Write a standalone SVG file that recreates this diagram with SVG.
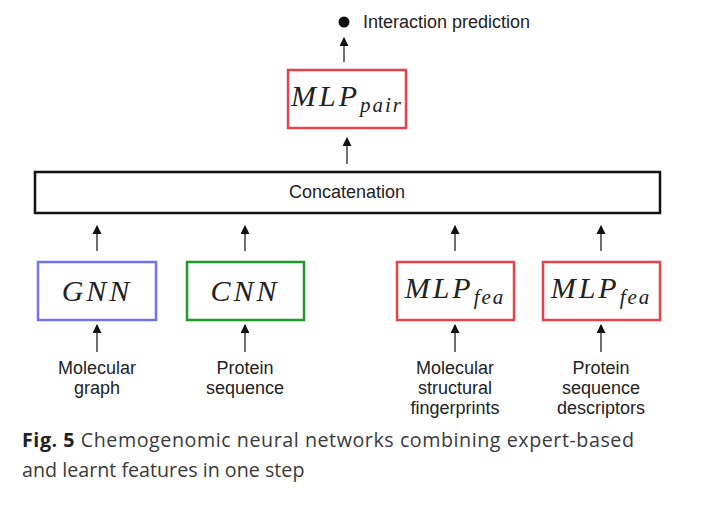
<svg xmlns="http://www.w3.org/2000/svg" width="718" height="505" viewBox="0 0 718 505">
<style>
.box{fill:#fff;stroke-width:2.5}
.red{stroke:#e8434a}
.blue{stroke:#7373f2}
.green{stroke:#1f9a2a}
.blk{stroke:#111;stroke-width:2.5;fill:#fff}
.lbl{font-family:"Liberation Sans",Arial,sans-serif;font-size:18px;fill:#222;text-anchor:middle}
.math{font-family:"Liberation Serif","Times New Roman",serif;font-style:italic;font-size:30px;fill:#222;letter-spacing:3px}
.sub{font-size:21px;letter-spacing:2px}
.cap{font-family:"Open Sans","Noto Sans",sans-serif;font-size:19.7px;fill:#3a3a3a}
.conn line{stroke:#222;stroke-width:1.3}
</style>
<defs>
<marker id="ah" viewBox="0 0 10 10" refX="9" refY="5" markerWidth="10" markerHeight="9" markerUnits="userSpaceOnUse" orient="auto">
<path d="M0,0 L10,5 L0,10 z" fill="#111"/>
</marker>
</defs>
<g id="connectors" class="conn">
<line x1="344" y1="62" x2="344" y2="38" marker-end="url(#ah)"/>
<line x1="347" y1="164" x2="347" y2="138" marker-end="url(#ah)"/>
<line x1="97" y1="251" x2="97" y2="226" marker-end="url(#ah)"/>
<line x1="245" y1="251" x2="245" y2="226" marker-end="url(#ah)"/>
<line x1="455" y1="251" x2="455" y2="226" marker-end="url(#ah)"/>
<line x1="601" y1="251" x2="601" y2="226" marker-end="url(#ah)"/>
<line x1="97" y1="352" x2="97" y2="325" marker-end="url(#ah)"/>
<line x1="245" y1="352" x2="245" y2="325" marker-end="url(#ah)"/>
<line x1="455" y1="352" x2="455" y2="325" marker-end="url(#ah)"/>
<line x1="601" y1="352" x2="601" y2="325" marker-end="url(#ah)"/>
</g>
<g id="output">
<circle cx="344" cy="22" r="5.5" fill="#111"/>
<text x="363" y="28" class="lbl" style="text-anchor:start">Interaction prediction</text>
</g>
<g id="mlp-pair">
<rect x="288" y="70" width="118" height="58" class="box red"/>
<text x="347" y="106" class="math" text-anchor="middle">MLP<tspan class="sub" dy="6">pair</tspan></text>
</g>
<g id="concat">
<rect x="35" y="172" width="625" height="41" class="blk"/>
<text x="347" y="198" class="lbl">Concatenation</text>
</g>
<g id="gnn">
<rect x="38" y="262" width="118" height="58" class="box blue"/>
<text x="97" y="301" class="math" text-anchor="middle">GNN</text>
</g>
<g id="cnn">
<rect x="187" y="262" width="117" height="58" class="box green"/>
<text x="245" y="301" class="math" text-anchor="middle">CNN</text>
</g>
<g id="mlp-fea-1">
<rect x="397" y="262" width="117" height="58" class="box red"/>
<text x="455" y="298" class="math" text-anchor="middle">MLP<tspan class="sub" dy="6">fea</tspan></text>
</g>
<g id="mlp-fea-2">
<rect x="543" y="262" width="117" height="58" class="box red"/>
<text x="601" y="298" class="math" text-anchor="middle">MLP<tspan class="sub" dy="6">fea</tspan></text>
</g>
<g id="inputs">
<text class="lbl"><tspan x="97" y="374">Molecular</tspan><tspan x="97" y="394">graph</tspan></text>
<text class="lbl"><tspan x="245" y="374">Protein</tspan><tspan x="245" y="394">sequence</tspan></text>
<text class="lbl"><tspan x="455" y="374">Molecular</tspan><tspan x="455" y="394">structural</tspan><tspan x="455" y="414">fingerprints</tspan></text>
<text class="lbl"><tspan x="601" y="374">Protein</tspan><tspan x="601" y="394">sequence</tspan><tspan x="601" y="414">descriptors</tspan></text>
</g>
<g id="caption">
<text x="22" y="447" class="cap" textLength="612" lengthAdjust="spacing"><tspan font-weight="bold" fill="#222">Fig. 5</tspan>  Chemogenomic neural networks combining expert-based</text>
<text x="22" y="477" class="cap">and learnt features in one step</text>
</g>
</svg>
